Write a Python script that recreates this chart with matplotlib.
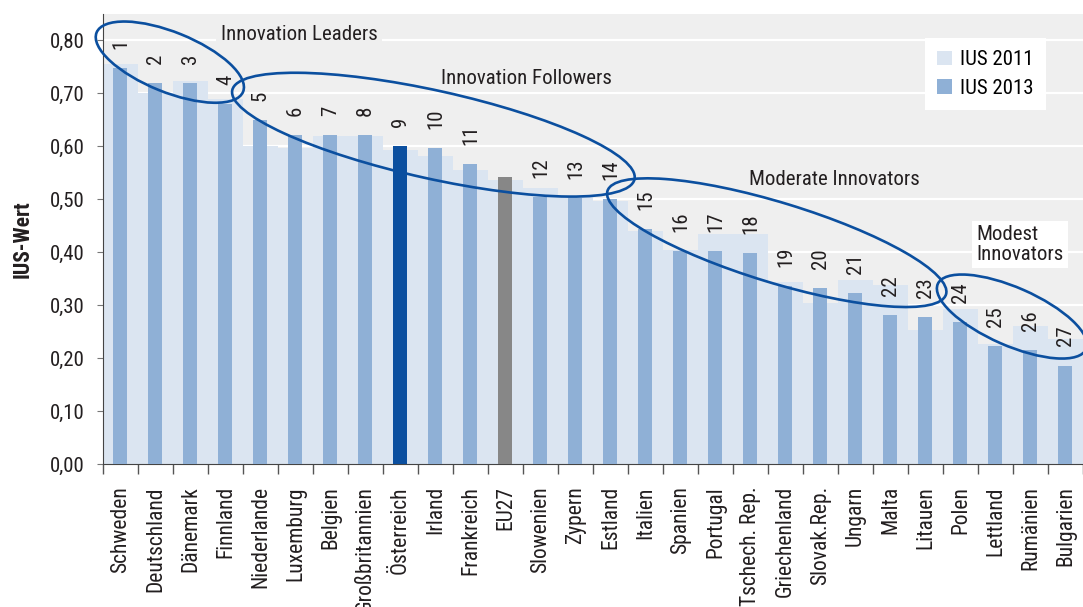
import matplotlib
matplotlib.use('Agg')
import matplotlib.pyplot as plt
from matplotlib.patches import Ellipse
from matplotlib.transforms import ScaledTranslation
import numpy as np

plt.rcParams['font.family'] = ['Roboto Condensed', 'DejaVu Sans']

countries = ['Schweden', 'Deutschland', 'Dänemark', 'Finnland', 'Niederlande', 'Luxemburg',
             'Belgien', 'Großbritannien', 'Österreich', 'Irland', 'Frankreich', 'EU27',
             'Slowenien', 'Zypern', 'Estland', 'Italien', 'Spanien', 'Portugal',
             'Tschech. Rep.', 'Griechenland', 'Slovak.Rep.', 'Ungarn', 'Malta', 'Litauen',
             'Polen', 'Lettland', 'Rumänien', 'Bulgarien']
ius_2011 = [0.755, 0.700, 0.724, 0.690, 0.600, 0.597, 0.619, 0.619, 0.593, 0.582,
            0.556, 0.536, 0.521, 0.506, 0.496, 0.441, 0.405, 0.435, 0.435, 0.343,
            0.304, 0.348, 0.339, 0.253, 0.293, 0.227, 0.261, 0.237]
ius_2013 = [0.747, 0.720, 0.720, 0.680, 0.650, 0.622, 0.622, 0.622, 0.600, 0.597,
            0.566, 0.543, 0.505, 0.502, 0.500, 0.443, 0.403, 0.403, 0.399, 0.337,
            0.333, 0.323, 0.282, 0.277, 0.268, 0.222, 0.216, 0.186]
ranks = [1, 2, 3, 4, 5, 6, 7, 8, 9, 10, 11, None, 12, 13, 14, 15, 16, 17, 18, 19,
         20, 21, 22, 23, 24, 25, 26, 27]

# group labels: text, x (category units), y (value), alignment
groups = [('Innovation Leaders', 5.1, 0.812, 'center'),
          ('Innovation Followers', 11.6, 0.728, 'center'),
          ('Moderate Innovators', 20.4, 0.537, 'center'),
          ('Modest\nInnovators', 24.45, 0.415, 'left')]

# ellipses: centre x, centre y (data), half axes in px, tilt in degrees
rings = [(1.41, 0.759, 79, 30, 22),
         (8.94, 0.622, 206, 44, 12.5),
         (18.75, 0.418, 177, 40, 17),
         (25.47, 0.2785, 81, 29, 23.7)]

text_c = '#231f20'
blue = '#0b4f9f'

fig = plt.figure(figsize=(10.83, 6.07), dpi=100)
ax = fig.add_axes([0.0951, 0.2356, 0.9049, 0.7414])
ax.set_facecolor('#efefef')

x = np.arange(len(countries))
cols = [blue if c == 'Österreich' else '#878787' if c == 'EU27' else '#8fb0d6' for c in countries]

ax.bar(x, ius_2011, width=1.0, color='#dbe5f1', label='IUS 2011', zorder=2)
ax.bar(x, ius_2013, width=0.4, color=cols, label='IUS 2013', zorder=3)

for xi, v, r in zip(x, ius_2013, ranks):
    if r is None:
        continue
    ax.text(xi, v + 0.036, str(r), rotation=90, ha='center', va='bottom',
            fontsize=15, color=text_c, zorder=6)

for t, gx, gy, ha in groups:
    ax.text(gx, gy, t, ha=ha, va='center', fontsize=15, color=text_c, zorder=6,
            linespacing=1.05,
            bbox=dict(facecolor='white' if ha == 'left' else '#efefef',
                      edgecolor='none', pad=3))

for cx, cy, a, b, ang in rings:
    tr = fig.dpi_scale_trans + ScaledTranslation(cx, cy, ax.transData)
    ax.add_patch(Ellipse((0, 0), 2 * a / 100, 2 * b / 100, angle=-ang, transform=tr,
                         fill=False, ec=blue, lw=1.9, clip_on=False, zorder=7))

ax.set_xlim(-0.5, len(countries) - 0.5)
ax.set_ylim(0, 0.85)
yt = np.arange(0, 0.81, 0.1)
ax.set_yticks(yt)
ax.set_yticklabels([f'{v:.2f}'.replace('.', ',') for v in yt], fontsize=15, color=text_c)
ax.set_xticks(x)
ax.set_xticklabels(countries, rotation=90, fontsize=15.5, color=text_c)
ax.set_xticks(np.arange(-0.5, len(countries)), minor=True)
ax.tick_params(axis='x', which='major', length=0, pad=16)
ax.tick_params(axis='x', which='minor', length=7, color='#555555', width=1)
ax.tick_params(axis='y', length=4, color='#777777', pad=9)

ax.grid(axis='y', color='white', lw=1.6, zorder=1)
ax.set_axisbelow(True)
for s in ['top', 'right']:
    ax.spines[s].set_visible(False)
ax.spines['left'].set_color('#444444')
ax.spines['bottom'].set_color('#444444')

ax.set_ylabel('IUS-Wert', fontsize=15.5, fontweight='bold', color=text_c, labelpad=12)

leg = ax.legend(loc='upper right', bbox_to_anchor=(0.973, 0.97), fontsize=15,
                frameon=True, fancybox=False, edgecolor='none', facecolor='white',
                framealpha=1, handlelength=0.7, handleheight=0.7, handletextpad=0.4,
                labelspacing=0.45, borderpad=0.6)
leg.set_zorder(8)

plt.savefig('out.png', dpi=100)
